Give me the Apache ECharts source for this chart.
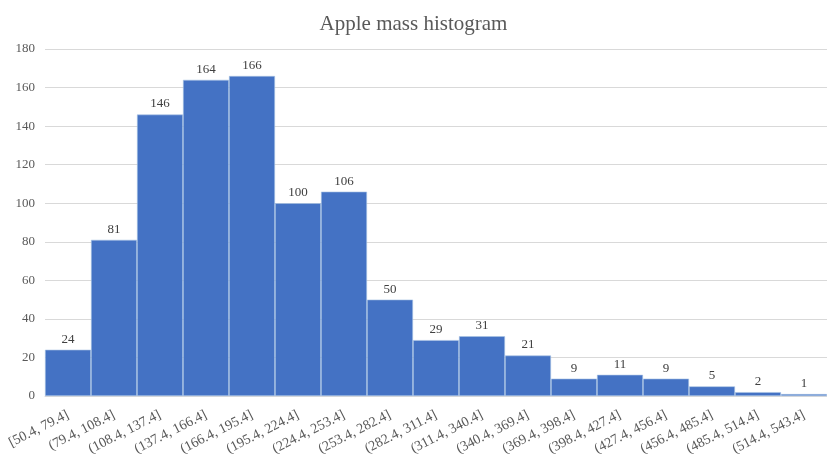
<!DOCTYPE html>
<html>
<head>
<meta charset="utf-8">
<script src="https://cdn.jsdelivr.net/npm/echarts@6/dist/echarts.min.js"></script>
<style>
    html, body { margin: 0; padding: 0; background: #fff; }
    #chart { width: 827px; height: 454px; }
</style>
</head>
<body>
<div id="chart"></div>
<script>
// bins of apple mass
const bins = [
    '[50.4, 79.4]', '(79.4, 108.4]', '(108.4, 137.4]', '(137.4, 166.4]',
    '(166.4, 195.4]', '(195.4, 224.4]', '(224.4, 253.4]', '(253.4, 282.4]',
    '(282.4, 311.4]', '(311.4, 340.4]', '(340.4, 369.4]', '(369.4, 398.4]',
    '(398.4, 427.4]', '(427.4, 456.4]', '(456.4, 485.4]', '(485.4, 514.4]',
    '(514.4, 543.4]'
];
// counts per bin
const counts = [24, 81, 146, 164, 166, 100, 106, 50, 29, 31, 21, 9, 11, 9, 5, 2, 1];

const font = '"Liberation Serif", "Times New Roman", serif';
let mychart = echarts.init(document.getElementById('chart'));
mychart.setOption({
    animation: false,
    title: {
        text: 'Apple mass histogram',
        left: 'center',
        top: 9,
        textStyle: { color: '#595959', fontSize: 21, fontWeight: 'normal', fontFamily: font }
    },
    grid: { left: 45, right: 0, top: 49, bottom: 58, containLabel: false, outerBoundsMode: 'none' },
    xAxis: {
        type: 'category',
        data: bins,
        axisTick: { show: false },
        axisLine: { lineStyle: { color: '#d9d9d9' } },
        axisLabel: {
            rotate: 27,
            interval: 0,
            margin: 18,
            color: '#595959',
            fontSize: 14,
            fontFamily: font
        }
    },
    yAxis: {
        type: 'value',
        min: 0,
        max: 180,
        interval: 20,
        axisLine: { show: false },
        axisTick: { show: false },
        splitLine: { lineStyle: { color: '#d9d9d9' } },
        axisLabel: { color: '#595959', fontSize: 13, fontFamily: font, margin: 10 }
    },
    series: [{
        type: 'bar',
        data: counts,
        barCategoryGap: 0,
        itemStyle: { color: '#4472C4', borderColor: '#a9c4e4', borderWidth: 0.6 },
        label: {
            show: true,
            position: 'top',
            distance: 4,
            color: '#404040',
            fontSize: 13,
            fontFamily: font
        }
    }]
});
</script>
</body>
</html>
